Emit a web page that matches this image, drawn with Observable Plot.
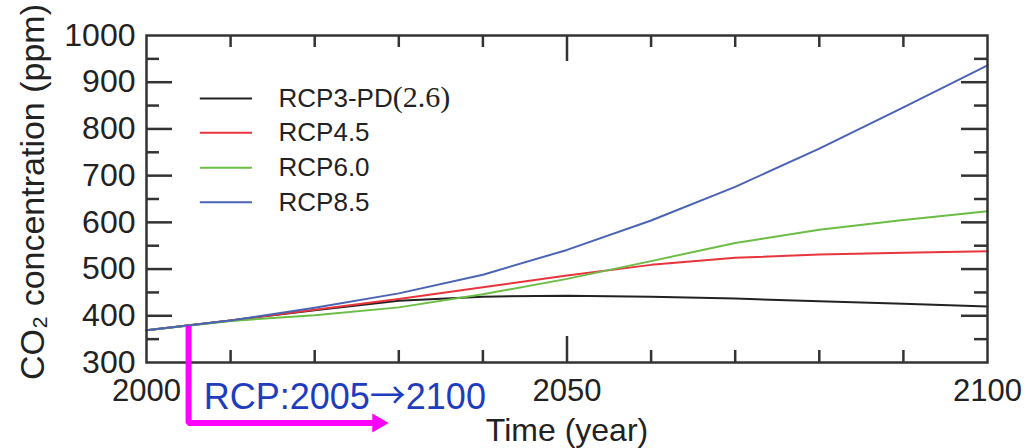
<!DOCTYPE html>
<html><head><meta charset="utf-8">
<script src="https://cdn.jsdelivr.net/npm/d3@7"></script>
<script src="https://cdn.jsdelivr.net/npm/@observablehq/plot@0.6"></script>
<style>
html,body{margin:0;padding:0;background:#fff;}
#chart{width:1032px;height:448px;overflow:hidden;}
</style></head><body><div id="chart"></div>
<script>
// ---- data ----
const years  = [2000, 2010, 2020, 2030, 2040, 2050, 2060, 2070, 2080, 2090, 2100];
const rcp26  = [369, 390, 412, 432, 441, 443, 441, 437, 431, 426, 420];
const rcp45  = [369, 390, 413, 436, 461, 486, 509, 524, 531, 535, 538];
const rcp60  = [369, 389, 401, 418, 446, 479, 517, 556, 584, 605, 624];
const rcp85  = [369, 390, 417, 448, 488, 541, 604, 676, 758, 846, 936];
const seriesNames  = ["RCP3-PD(2.6)", "RCP4.5", "RCP6.0", "RCP8.5"];
const seriesValues = [rcp26, rcp45, rcp60, rcp85];
const seriesColors = ["#222222", "#e8343c", "#6bbd45", "#4a63b3"];

const yTickLabels = [300, 400, 500, 600, 700, 800, 900, 1000];
const yMajorInner = [400, 500, 600, 700, 800, 900];
const yMinorTicks = [350, 450, 550, 650, 750, 850, 950];
const xTickLabels = [2000, 2050, 2100];
const xMajorInner = [2050];
const xMinorTicks = [2010, 2020, 2030, 2040, 2060, 2070, 2080, 2090];

// legend anchor (data units)
const legendLineYears = [2006.4, 2012.6];
const legendTextYear = 2015.7;
const legendLevels = [865, 792, 717, 643];

// annotation
const annotationText = "RCP:2005\u21922100";
const annotationTextAt = [2006.8, 201];
const arrowPath = [[2005, 378], [2005, 170.5], [2027, 170.5]];
const arrowTip = [[2027.5, 170.5]];

// ---- layout ----
const W = 1032, H = 448;
const mL = 146, mR = 45, mT = 35, mB = 86;
const pW = W - mL - mR, pH = H - mT - mB;
const ink = "#222";

const rows = seriesNames.flatMap((name, s) => years.map((year, i) => ({name, year, value: seriesValues[s][i]})));
const legendRows = seriesNames.map((name, i) => ({name, color: seriesColors[i], level: legendLevels[i]}));

const marks = [];
seriesNames.forEach((name, s) => {
  marks.push(Plot.line(rows.filter(d => d.name === name), {x: "year", y: "value", stroke: seriesColors[s], strokeWidth: 2}));
});
// frame and ticks (inward)
marks.push(Plot.frame({stroke: "#333", strokeWidth: 2.5}));
marks.push(Plot.ruleY(yMajorInner, {stroke: "#333", strokeWidth: 2.5, insetRight: pW - 26}));
marks.push(Plot.ruleY(yMajorInner, {stroke: "#333", strokeWidth: 2.5, insetLeft: pW - 26}));
marks.push(Plot.ruleY(yMinorTicks, {stroke: "#333", strokeWidth: 2.5, insetRight: pW - 13}));
marks.push(Plot.ruleY(yMinorTicks, {stroke: "#333", strokeWidth: 2.5, insetLeft: pW - 13}));
marks.push(Plot.ruleX(xMinorTicks, {stroke: "#333", strokeWidth: 2.5, insetTop: pH - 12}));
marks.push(Plot.ruleX(xMinorTicks, {stroke: "#333", strokeWidth: 2.5, insetBottom: pH - 12}));
marks.push(Plot.ruleX(xMajorInner, {stroke: "#333", strokeWidth: 2.5, insetTop: pH - 26}));
marks.push(Plot.ruleX(xMajorInner, {stroke: "#333", strokeWidth: 2.5, insetBottom: pH - 26}));
// axes labels
marks.push(Plot.axisY({ticks: yTickLabels, tickSize: 0, tickPadding: 11, fontSize: 32, tickFormat: d => String(d), label: null}));
marks.push(Plot.axisX({ticks: xTickLabels, tickSize: 0, tickPadding: 16, fontSize: 31, tickFormat: d => String(d), label: null}));
marks.push(Plot.text(["Time (year)"], {frameAnchor: "bottom", dy: 78, lineAnchor: "bottom", fontSize: 32, fill: ink}));
marks.push(Plot.text(["CO\u2082 concentration (ppm)"], {frameAnchor: "left", textAnchor: "middle", rotate: -90, dx: -103, dy: -7, lineAnchor: "bottom", fontSize: 34, fill: ink}));
// legend
legendRows.forEach(r => {
  marks.push(Plot.ruleY([r.level], {x1: legendLineYears[0], x2: legendLineYears[1], stroke: r.color, strokeWidth: 2}));
});
marks.push(Plot.text(legendRows, {x: () => legendTextYear, y: "level", text: "name", textAnchor: "start", lineAnchor: "middle", fontSize: 26, fill: ink}));
// annotation
marks.push(Plot.line(arrowPath, {x: d => d[0], y: d => d[1], stroke: "#ff00ff", strokeWidth: 6, strokeLinejoin: "miter", strokeLinecap: "butt"}));
marks.push(Plot.dot(arrowTip, {x: d => d[0], y: d => d[1], symbol: "triangle", r: 7, rotate: 90, fill: "#ff00ff", stroke: "none"}));
marks.push(Plot.text([annotationText], {x: () => annotationTextAt[0], y: () => annotationTextAt[1], textAnchor: "start", lineAnchor: "bottom", fontSize: 36, fill: "#1e3cbe"}));

const chart = Plot.plot({
  width: W, height: H,
  marginLeft: mL, marginRight: mR, marginTop: mT, marginBottom: mB,
  x: {domain: [2000, 2100], label: null},
  y: {domain: [300, 1000], label: null},
  style: {fontFamily: "'Liberation Sans', Arial, sans-serif", color: ink, background: "#fff", overflow: "visible"},
  marks
});

const SVGNS = "http://www.w3.org/2000/svg";
chart.querySelectorAll("text").forEach(t => {
  // serif "(2.6)" in legend entry
  if (t.textContent === "RCP3-PD(2.6)") {
    t.textContent = "RCP3-PD";
    const ts = document.createElementNS(SVGNS, "tspan");
    ts.setAttribute("font-family", "'Liberation Serif', 'Times New Roman', serif");
    ts.setAttribute("font-size", "30");
    ts.textContent = "(2.6)";
    t.appendChild(ts);
  }
  // full-width arrow in the annotation
  if (t.textContent === annotationText) {
    const [a, b] = annotationText.split("\u2192");
    t.textContent = a;
    const ts = document.createElementNS(SVGNS, "tspan");
    ts.setAttribute("font-family", "'Noto Sans CJK JP', 'DejaVu Sans', sans-serif");
    ts.textContent = "\u2192";
    t.appendChild(ts);
    t.appendChild(document.createTextNode(b));
  }
});
document.getElementById("chart").appendChild(chart);
</script></body></html>
